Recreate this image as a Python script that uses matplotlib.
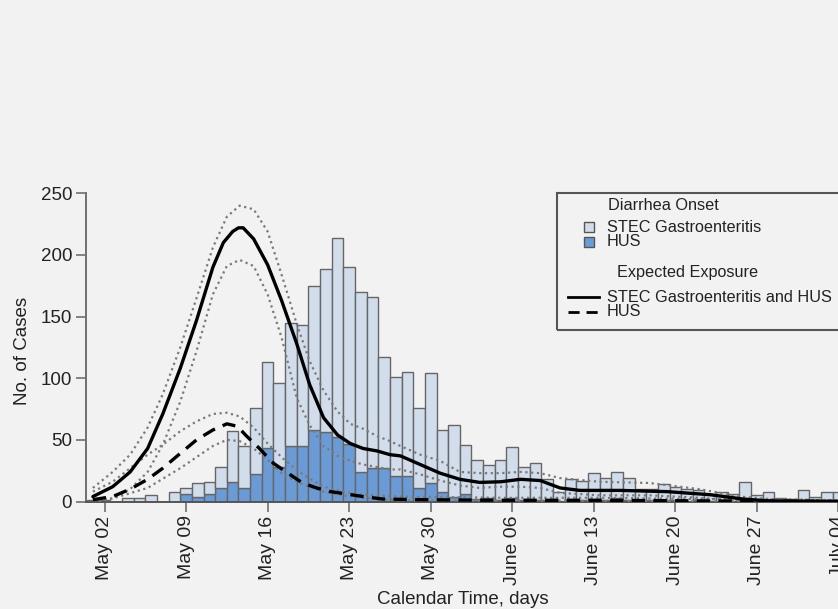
import matplotlib
matplotlib.use("Agg")
import matplotlib.pyplot as plt
from matplotlib.lines import Line2D
from matplotlib.patches import Rectangle
import numpy as np

plt.rcParams['font.family'] = ['Liberation Sans', 'DejaVu Sans']

# ---------------- data ----------------
# day index: 0 = May 01 ... 64 = July 04
days = list(range(65))
hus = [0, 0, 0, 0, 0, 0, 0, 0,
       6, 4, 6, 11, 16, 11, 22, 43,
       28, 45, 45, 58, 56, 52, 47, 24,
       27, 27, 21, 21, 11, 15, 8, 4,
       6, 2, 3, 1, 3, 1, 1, 1,
       0, 1, 1, 1, 1, 3, 1, 0,
       1, 1, 1, 0, 1, 0, 0, 0,
       0, 0, 0, 0, 0, 0, 0, 0, 0]
stec = [1, 1, 0, 3, 3, 5, 0, 8,
        5, 11, 10, 17, 41, 34, 54, 70,
        68, 100, 98, 117, 133, 162, 143, 146,
        139, 90, 80, 84, 65, 89, 50, 58,
        40, 32, 27, 33, 41, 27, 30, 17,
        8, 17, 16, 22, 18, 21, 18, 10,
        9, 13, 11, 10, 8, 6, 8, 6,
        16, 5, 8, 3, 2, 9, 4, 8, 8]

# expected exposure, STEC gastroenteritis and HUS
exp_all_day = [0.0, 1.7, 3.2, 4.7, 6.0, 7.5, 8.9, 10.3, 11.2, 12.0,
               12.5, 12.9, 13.8, 15.0, 16.2, 17.5, 18.6, 19.8, 21.0, 22.1,
               23.2, 24.4, 25.5, 26.4, 28.1, 29.8, 31.5, 33.2, 35.0, 36.7,
               38.4, 40.1, 41.8, 45.3, 49.3, 53.0, 55.8, 57.9, 64.0]
exp_all = [4, 12, 24, 43, 71, 108, 147, 190, 210, 219,
           222, 222, 213, 192, 163, 128, 95, 68, 54, 47,
           43, 41, 38, 37, 30, 23, 18, 15.5, 16, 18,
           17, 11, 9, 9, 8, 5.5, 2, 0.5, 0]

band_day = [0.0, 1.7, 3.2, 4.7, 6.0, 7.5, 8.9, 10.3, 11.5, 12.6,
            13.8, 15.0, 16.2, 17.5, 18.6, 19.8, 21.0, 22.1, 23.2, 24.4,
            25.5, 26.4, 28.1, 29.8, 31.5, 33.2, 35.0, 36.7, 38.4, 40.1,
            43.5, 47.8, 52.1, 55.5, 58.1, 64.0]
exp_all_hi = [11, 24, 38, 60, 87, 125, 165, 206, 231, 240,
              237, 219, 184, 144, 114, 90, 73, 63, 59, 53,
              49, 45, 38, 33, 24, 23, 23, 24, 23, 19,
              16, 15, 10, 4, 2, 1]
exp_all_lo = [1, 2.5, 10, 24, 46, 81, 122, 168, 191, 196,
              191, 168, 133, 84, 62, 45, 37, 33, 30, 28,
              26, 26, 22, 17, 13, 11, 12, 12, 11, 7,
              5, 5, 3, 1, 0, 0]

# expected exposure, HUS
exp_hus_day = [0.0, 1.7, 3.2, 4.7, 6.0, 7.5, 8.9, 10.3, 11.5, 12.4,
               13.2, 14.3, 15.5, 16.9, 18.0, 19.2, 20.4, 21.5, 23.2, 24.9,
               28.0, 35.0, 43.5, 52.0, 64.0]
exp_hus = [1.5, 4, 10, 18, 27, 39, 50, 58, 63, 61,
           53, 43, 31, 22, 15, 11, 8, 6.5, 4, 2,
           1.5, 1, 1, 0.5, 0]

hus_hi_day = [0.0, 1.7, 3.2, 4.7, 6.0, 7.5, 8.9, 10.3, 11.5, 12.6,
              13.8, 15.0, 16.3, 18.0, 19.8, 21.5, 23.2, 26.4, 35.0, 43.5,
              52.0, 64.0]
exp_hus_hi = [8, 16, 27, 38, 46, 57, 65, 71, 72, 69,
              60, 47, 35, 22, 12, 8, 5.5, 4, 3, 3,
              2, 1]
hus_lo_day = [0.5, 1.7, 4.7, 7.5, 8.9, 10.3, 11.5, 12.6, 13.8, 15.0,
              16.3, 18.0, 19.8, 21.5, 23.2, 26.4, 64.0]
exp_hus_lo = [0, 2.5, 11, 27, 36, 45, 50, 49, 43, 34,
              22, 14, 8, 5, 3, 1, 0]

tick_days = [1, 8, 15, 22, 29, 36, 43, 50, 57, 64]
tick_labels = ["May 02", "May 09", "May 16", "May 23", "May 30",
               "June 06", "June 13", "June 20", "June 27", "July 04"]
y_ticks = [0, 50, 100, 150, 200, 250]

# ---------------- styling ----------------
W, H = 838, 609
BG = '#f2f2f2'
LIGHT = '#d2ddec'
DARK = '#6b9bd6'
EDGE = '#666666'
DOT = '#7a7a7a'

fig = plt.figure(figsize=(W / 100, H / 100), dpi=100, facecolor=BG)
ax_left, ax_right, ax_bot, ax_top = 86, 860, 501.5, 193.3
ax = fig.add_axes([ax_left / W, (H - ax_bot) / H,
                   (ax_right - ax_left) / W, (ax_bot - ax_top) / H])
ax.set_facecolor(BG)

ax.bar(days, hus, width=1.0, color=DARK, edgecolor=EDGE, linewidth=1.0, zorder=2)
ax.bar(days, stec, width=1.0, bottom=hus, color=LIGHT, edgecolor=EDGE,
       linewidth=1.0, zorder=2)

ax.plot(band_day, exp_all_hi, color=DOT, lw=1.6, ls=(0, (1, 1.6)), zorder=3)
ax.plot(band_day, exp_all_lo, color=DOT, lw=1.6, ls=(0, (1, 1.6)), zorder=3)
ax.plot(hus_hi_day, exp_hus_hi, color=DOT, lw=1.6, ls=(0, (1, 1.6)), zorder=3)
ax.plot(hus_lo_day, exp_hus_lo, color=DOT, lw=1.6, ls=(0, (1, 1.6)), zorder=3)
ax.plot(exp_all_day, exp_all, color='black', lw=2.4, zorder=4,
        solid_joinstyle='round', solid_capstyle='round')
ax.plot(exp_hus_day, exp_hus, color='black', lw=2.4, ls=(0, (4, 2.5)), zorder=4)

ax.set_xlim(-0.59, (ax_right - 104.5) / 11.65 + 1)
ax.set_ylim(0, 250)
ax.set_xticks(tick_days)
ax.set_xticklabels(tick_labels, rotation=90, fontsize=14, color='#222')
ax.set_yticks(y_ticks)
ax.set_yticklabels([str(v) for v in y_ticks], fontsize=13.5, color='#222')
ax.tick_params(axis='both', direction='out', length=7, width=1.2, color='#707070', pad=3)

for s in ['top', 'right']:
    ax.spines[s].set_visible(False)
ax.spines['left'].set_color('#707070')
ax.spines['left'].set_linewidth(1.4)
ax.spines['bottom'].set_color('#555555')
ax.spines['bottom'].set_linewidth(1.4)

ax.set_xlabel('Calendar Time, days', fontsize=13.5, color='#222')
ax.xaxis.set_label_coords((463 - ax_left) / (ax_right - ax_left),
                          -(591 - ax_bot) / (ax_bot - ax_top))
ax.set_ylabel('No. of Cases', fontsize=13.5, color='#222')
ax.yaxis.set_label_coords(-(ax_left - 31) / (ax_right - ax_left), 0.49)


# ---------------- legend (drawn by hand) ----------------
def fx(x):
    return x / W


def fy(y):
    return (H - y) / H


fig.patches.append(Rectangle((fx(557), fy(330)), fx(900) - fx(557), fy(193) - fy(330),
                             transform=fig.transFigure, fill=False,
                             edgecolor='#555555', lw=1.5))
LFS = 11.7
fig.text(fx(608), fy(206), 'Diarrhea Onset', fontsize=LFS, va='center', color='#222')
fig.lines.append(Line2D([fx(589)], [fy(227)], marker='s', markersize=7.5,
                        mfc=LIGHT, mec='#555555', mew=1.0, ls='none',
                        transform=fig.transFigure))
fig.lines.append(Line2D([fx(589)], [fy(242)], marker='s', markersize=7.5,
                        mfc=DARK, mec='#555555', mew=1.0, ls='none',
                        transform=fig.transFigure))
fig.text(fx(607), fy(227), 'STEC Gastroenteritis', fontsize=LFS, va='center', color='#222')
fig.text(fx(607), fy(242), 'HUS', fontsize=LFS, va='center', color='#222')
fig.text(fx(617), fy(273), 'Expected Exposure', fontsize=LFS, va='center', color='#222')
fig.lines.append(Line2D([fx(568), fx(599)], [fy(297), fy(297)], color='black', lw=2.0,
                        transform=fig.transFigure))
fig.lines.append(Line2D([fx(568), fx(599)], [fy(312), fy(312)], color='black', lw=2.0,
                        ls=(0, (4, 2.5)), transform=fig.transFigure))
fig.text(fx(607), fy(297), 'STEC Gastroenteritis and HUS', fontsize=LFS, va='center', color='#222')
fig.text(fx(607), fy(312), 'HUS', fontsize=LFS, va='center', color='#222')

fig.savefig('out.png', dpi=100, facecolor=BG)
